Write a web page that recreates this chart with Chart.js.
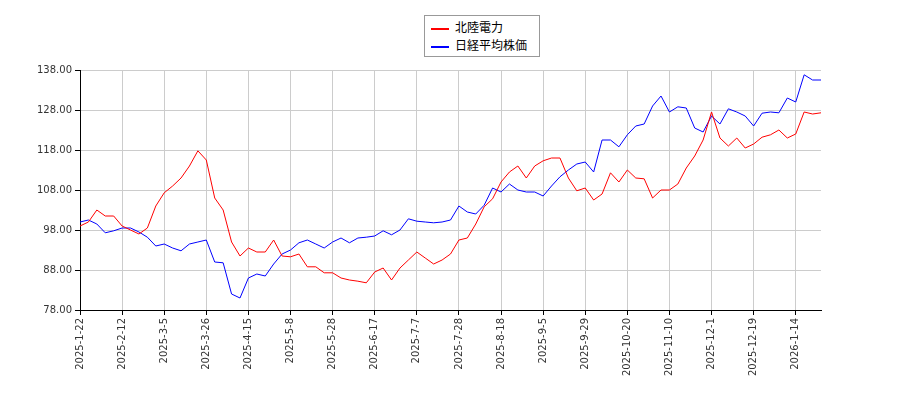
<!DOCTYPE html>
<html>
<head>
<meta charset="utf-8">
<script src="https://cdn.jsdelivr.net/npm/chart.js@4.4.1/dist/chart.umd.min.js"></script>
<style>
body { margin: 0; background: #fff; }
#wrap { position: relative; width: 900px; height: 400px; }
#legend { position: absolute; left: 424px; top: 15px; width: 114px; height: 40px; border: 1px solid #999; background: #fff;
  font-family: "Noto Sans CJK JP", sans-serif; font-size: 12px; color: #000; }
.item { position: absolute; left: 6px; height: 16px; line-height: 16px; }
.sw { display: inline-block; width: 18px; height: 2px; vertical-align: middle; margin-right: 6px; }
</style>
</head>
<body>
<div id="wrap">
<canvas id="c" width="900" height="400"></canvas>
<div id="legend">
  <div class="item" style="top:3px"><span class="sw" style="background:red"></span>北陸電力</div>
  <div class="item" style="top:21px"><span class="sw" style="background:blue"></span>日経平均株価</div>
</div>
</div>
<script>
// one sample every 3 trading days, tick every 5 samples
const tickLabels = ["2025-1-22","2025-2-12","2025-3-5","2025-3-26","2025-4-15","2025-5-8","2025-5-28","2025-6-17","2025-7-7","2025-7-28","2025-8-18","2025-9-5","2025-9-29","2025-10-20","2025-11-10","2025-12-1","2025-12-19","2026-1-14"]

const hokuriku = [99,100,103,101.5,101.5,99,98,97,98.5,104,107.3,109,111,114,117.8,115.5,106,103,95,91.5,
  93.5,92.5,92.5,95.5,91.5,91.3,92,88.8,88.8,87.3,87.3,86,85.5,85.2,84.8,87.5,88.5,85.5,88.5,90.5,
  92.5,91,89.5,90.5,92,95.5,96,99.5,103.8,105.8,110,112.5,114,111,114,115.3,116,116,111,107.8,
  108.5,105.5,107,112.3,110,113,111,110.8,106,108,108,109.5,113.5,116.5,120.5,127.5,121,119,121,118.5,
  119.5,121.2,121.8,123,121,122,127.5,127,127.3]

const nikkei = [100,100.5,99.5,97.3,97.8,98.5,98.5,97.5,96.2,94,94.5,93.5,92.8,94.5,95,95.5,90,89.8,82,81,
  86,87,86.5,89.5,92,93,94.8,95.5,94.5,93.5,95,96,94.8,96,96.2,96.5,97.8,96.8,98,100.8,
  100.2,100,99.8,100,100.5,104,102.5,102,104.2,108.5,107.5,109.5,108,107.5,107.5,106.5,109,111.3,113,114.5,
  115,112.5,120.5,120.5,118.8,121.8,124,124.5,129,131.5,127.5,128.8,128.5,123.5,122.5,126.5,124.5,128.3,127.5,126.5,
  124,127.2,127.5,127.3,131,130,136.8,135.5,135.5]

const toXY = arr => arr.map((v, i) => ({ x: i, y: v }))

new Chart(document.getElementById('c'), {
  type: 'line',
  data: {
    datasets: [
      { label: '北陸電力', data: toXY(hokuriku), borderColor: 'red', borderWidth: 1, pointRadius: 0, tension: 0, fill: false },
      { label: '日経平均株価', data: toXY(nikkei), borderColor: 'blue', borderWidth: 1, pointRadius: 0, tension: 0, fill: false }
    ]
  },
  options: {
    responsive: false,
    animation: false,
    layout: { padding: { top: 70, right: 79, left: 0, bottom: 0 } },
    plugins: { legend: { display: false }, tooltip: { enabled: false } },
    scales: {
      x: {
        type: 'linear', min: 0, max: 88,
        afterFit: s => { s.height = 90 },
        afterBuildTicks: s => { s.ticks = tickLabels.map((t, i) => ({ value: i * 5 })) },
        grid: { color: '#ccc', drawTicks: true, tickLength: 5, tickColor: '#000' },
        border: { color: '#000' },
        ticks: {
          autoSkip: false, maxRotation: 90, minRotation: 90,
          font: { family: 'DejaVu Sans', size: 10 }, color: '#333',
          callback: v => tickLabels[v / 5]
        }
      },
      y: {
        min: 78, max: 138,
        afterFit: s => { s.width = 80 },
        afterBuildTicks: s => { s.ticks = [78,88,98,108,118,128,138].map(v => ({ value: v })) },
        grid: { color: '#ccc', tickLength: 5, tickColor: '#000' },
        border: { color: '#000' },
        ticks: {
          font: { family: 'DejaVu Sans', size: 10 }, color: '#333',
          callback: v => v.toFixed(2)
        }
      }
    }
  }
})
</script>
</body>
</html>
